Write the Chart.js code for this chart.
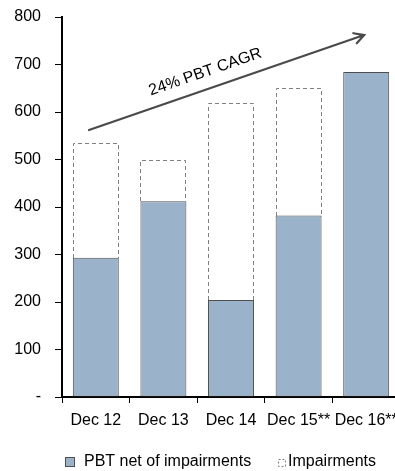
<!DOCTYPE html>
<html>
<head>
<meta charset="utf-8">
<script src="https://cdn.jsdelivr.net/npm/chart.js@4/dist/chart.umd.min.js"></script>
<style>
  html, body { margin: 0; padding: 0; background: #fff; overflow: hidden; }
  #wrap { width: 400px; height: 471px; position: relative; }
</style>
</head>
<body>
<div id="wrap"><canvas id="c"></canvas></div>
<script>
// Profit before tax, net of impairments, and the impairments stacked on top
const categories = ['Dec 12', 'Dec 13', 'Dec 14', 'Dec 15**', 'Dec 16**'];
const pbtNet = [293, 412, 204, 382, 684];
const impairments = [241, 86, 415, 268, 0];
const yTicks = [0, 100, 200, 300, 400, 500, 600, 700, 800];
const seriesNames = ['PBT net of impairments', 'Impairments'];
// Trend arrow: [category position, value] at start and end
const trendStart = [-0.1, 562];
const trendEnd = [3.97, 762];
const trendLabel = '24% PBT CAGR';
const trendLabelAt = [1.62, 684];

const FONT = "'Liberation Sans', Arial, sans-serif";
const BAR_FILL = '#9bb3ca';
const BAR_EDGE = '#4f4f4f';
const DASH_EDGE = '#808080';

// Dashed outline for the impairments segments (bars have no native dash)
const dashedBars = {
  id: 'dashedBars',
  afterDatasetsDraw(chart) {
    const meta = chart.getDatasetMeta(1);
    const ctx = chart.ctx;
    ctx.save();
    ctx.strokeStyle = DASH_EDGE;
    ctx.lineWidth = 1;
    ctx.setLineDash([4, 3]);
    meta.data.forEach((bar, i) => {
      if (!impairments[i]) return;
      const { x, y, base, width } = bar.getProps(['x', 'y', 'base', 'width'], true);
      const l = Math.round(x - width / 2) + 0.5;
      const r = Math.round(x + width / 2) - 0.5;
      const t = Math.round(y) + 0.5;
      const b = Math.round(base);
      ctx.beginPath();
      ctx.moveTo(l, b);
      ctx.lineTo(l, t);
      ctx.lineTo(r, t);
      ctx.lineTo(r, b);
      ctx.stroke();
    });
    ctx.restore();
  }
};

// Growth arrow with its rotated caption
const trendArrow = {
  id: 'trendArrow',
  afterDatasetsDraw(chart) {
    const { x: xs, y: ys } = chart.scales;
    const ctx = chart.ctx;
    const x0 = xs.getPixelForValue(trendStart[0]);
    const y0 = ys.getPixelForValue(trendStart[1]);
    const x1 = xs.getPixelForValue(trendEnd[0]);
    const y1 = ys.getPixelForValue(trendEnd[1]);
    const ang = Math.atan2(y1 - y0, x1 - x0);
    ctx.save();
    ctx.strokeStyle = '#4a4a4a';
    ctx.lineWidth = 2.2;
    ctx.lineCap = 'round';
    ctx.beginPath();
    ctx.moveTo(x0, y0);
    ctx.lineTo(x1, y1);
    const head = 11, spread = 0.5;
    ctx.moveTo(x1 - head * Math.cos(ang - spread), y1 - head * Math.sin(ang - spread));
    ctx.lineTo(x1, y1);
    ctx.lineTo(x1 - head * Math.cos(ang + spread), y1 - head * Math.sin(ang + spread));
    ctx.stroke();
    const tx = xs.getPixelForValue(trendLabelAt[0]);
    const ty = ys.getPixelForValue(trendLabelAt[1]);
    ctx.translate(tx, ty);
    ctx.rotate(ang);
    ctx.fillStyle = '#000';
    ctx.font = '16px ' + FONT;
    ctx.textAlign = 'center';
    ctx.textBaseline = 'middle';
    ctx.fillText(trendLabel, 0, 0);
    ctx.restore();
  }
};

// Legend row under the axis
const legendRow = {
  id: 'legendRow',
  afterDraw(chart) {
    const ctx = chart.ctx;
    const cy = chart.height - 9;
    ctx.save();
    ctx.font = '16px ' + FONT;
    ctx.textBaseline = 'middle';
    ctx.fillStyle = BAR_FILL;
    ctx.fillRect(65, cy - 5, 10, 10);
    ctx.strokeStyle = BAR_EDGE;
    ctx.lineWidth = 1;
    ctx.strokeRect(65.5, cy - 4.5, 9, 9);
    ctx.fillStyle = '#000';
    ctx.fillText(seriesNames[0], 84, cy);
    ctx.strokeStyle = DASH_EDGE;
    ctx.setLineDash([2, 2]);
    ctx.strokeRect(278.5, cy - 2.5, 7, 7);
    ctx.setLineDash([]);
    ctx.fillText(seriesNames[1], 288, cy);
    ctx.restore();
  }
};

new Chart(document.getElementById('c'), {
  type: 'bar',
  data: {
    labels: categories,
    datasets: [
      {
        label: seriesNames[0],
        data: pbtNet,
        backgroundColor: BAR_FILL,
        borderColor: BAR_EDGE,
        borderWidth: 1,
        borderSkipped: false,
        categoryPercentage: 1,
        barPercentage: 0.68
      },
      {
        label: seriesNames[1],
        data: impairments,
        backgroundColor: 'rgba(255,255,255,0)',
        borderWidth: 0,
        categoryPercentage: 1,
        barPercentage: 0.68
      }
    ]
  },
  options: {
    responsive: true,
    maintainAspectRatio: false,
    animation: false,
    devicePixelRatio: 1,
    layout: { padding: { top: 17, bottom: 40, left: 0, right: 0 } },
    plugins: {
      legend: { display: false },
      tooltip: { enabled: false }
    },
    scales: {
      x: {
        stacked: true,
        grid: { drawOnChartArea: false, drawTicks: true, tickLength: 6, color: '#000', lineWidth: 1 },
        border: { display: true, color: '#000', width: 2 },
        ticks: { color: '#000', font: { size: 16, family: FONT }, padding: 8, maxRotation: 0, autoSkip: false },
        afterFit(scale) { scale.height = 34; scale.paddingLeft = 0; scale.paddingRight = 0; }
      },
      y: {
        stacked: true,
        min: 0,
        max: 800,
        afterBuildTicks(scale) { scale.ticks = yTicks.map(v => ({ value: v })); },
        grid: { drawOnChartArea: false, drawTicks: true, tickLength: 7, color: '#000', lineWidth: 1 },
        border: { display: true, color: '#000', width: 2 },
        ticks: {
          color: '#000',
          font: { size: 16, family: FONT },
          padding: 14,
          callback: v => (v === 0 ? '-' : String(v))
        },
        afterFit(scale) { scale.width = 62; scale.paddingTop = 0; scale.paddingBottom = 0; }
      }
    }
  },
  plugins: [dashedBars, trendArrow, legendRow]
});
</script>
</body>
</html>
